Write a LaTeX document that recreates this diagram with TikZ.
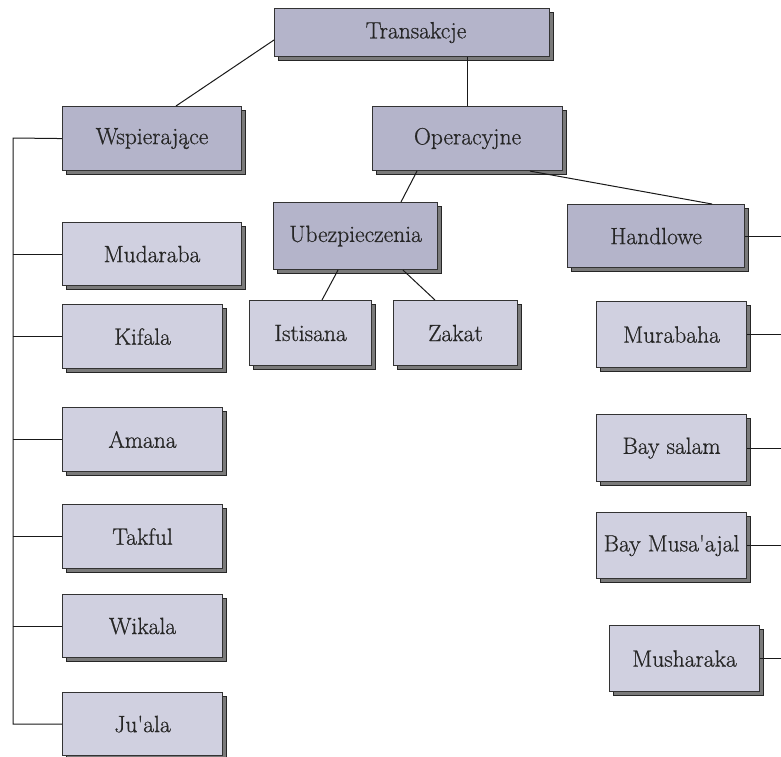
\documentclass[tikz,border=0pt]{standalone}
\usepackage{fontspec}
\setmainfont{Latin Modern Roman}[FakeBold=0.7, Ligatures=TeXOff]
\usetikzlibrary{shadows,calc}
\definecolor{hdrfill}{HTML}{B4B4CA}
\definecolor{leaffill}{HTML}{D0D0E0}
\definecolor{edge}{HTML}{333333}
\definecolor{txt}{HTML}{262626}
\tikzset{
  boxbase/.style={draw=edge, line width=1.1pt, inner sep=0pt, anchor=north west,
    text=txt, font=\fontsize{23.5}{27}\selectfont,
    copy shadow={shadow xshift=4pt, shadow yshift=-4pt, fill=black!52, draw=black!85, line width=1pt}},
  hdr/.style={boxbase, fill=hdrfill},
  leaf/.style={boxbase, fill=leaffill},
  conn/.style={draw=black!90, line width=1pt}
}
\begin{document}
\begin{tikzpicture}[x=1pt,y=-1pt]
\useasboundingbox (0,0) rectangle (781,756);
% headers
\node[hdr, minimum width=275pt, minimum height=48pt] (T) at (274,8) {\hspace{8pt}Transakcje};
\node[hdr, minimum width=179pt, minimum height=64pt] (W) at (62,106) {Wspierające};
\node[hdr, minimum width=190pt, minimum height=64pt] (O) at (372,106) {Operacyjne};
\node[hdr, minimum width=164pt, minimum height=67pt] (U) at (273,202) {Ubezpieczenia};
\node[hdr, minimum width=177pt, minimum height=63pt] (H) at (567,204) {Handlowe};
% leaves under Ubezpieczenia
\node[leaf, minimum width=122pt, minimum height=65pt] (I) at (249,300) {Istisana};
\node[leaf, minimum width=124pt, minimum height=65pt] (Z) at (393,300) {Zakat};
% left column
\node[leaf, minimum width=179pt, minimum height=63pt] (Mud) at (62,222) {Mudaraba};
\node[leaf, minimum width=160pt, minimum height=64pt] (Kif) at (62,304) {Kifala};
\node[leaf, minimum width=160pt, minimum height=64pt] (Ama) at (62,407) {Amana};
\node[leaf, minimum width=160pt, minimum height=64pt] (Tak) at (62,504) {Takful};
\node[leaf, minimum width=160pt, minimum height=63pt] (Wik) at (62,594) {Wikala};
\node[leaf, minimum width=160pt, minimum height=63pt] (Jua) at (62,692) {Ju'ala};
% right column
\node[leaf, minimum width=150pt, minimum height=66pt] (Mur) at (596,301) {Murabaha};
\node[leaf, minimum width=150pt, minimum height=67pt] (Bay) at (596,414) {Bay salam};
\node[leaf, minimum width=150pt, minimum height=66pt] (Mus) at (596,512) {Bay Musa'ajal};
\node[leaf, minimum width=150pt, minimum height=66pt] (Msh) at (609,625) {Musharaka};
% bus coordinates
\coordinate (lbus) at (13,138);
\coordinate (rbus) at (781,0);
% connectors
\draw[conn] ($(T.north west)+(0,32)$) -- ($(W.north west)+(114,0)$);
\draw[conn] (O.north |- T.south) -- (O.north);
\draw[conn] ($(O.south west)+(45,0)$) -- ($(U.north west)+(128,0)$);
\draw[conn] ($(O.south west)+(158,0)$) -- ($(H.north west)+(145,0)$);
\draw[conn] ($(U.south west)+(65,0)$) -- ($(I.north west)+(73,0)$);
\draw[conn] ($(U.south west)+(130,0)$) -- ($(Z.north west)+(42,0)$);
% left bus
\draw[conn] (W.west) -- (lbus) |- (Jua.west);
\foreach \n in {Mud,Kif,Ama,Tak,Wik}{
  \draw[conn] (\n.west) -- (\n.west -| lbus);
}
% right bus
\foreach \n in {H,Mur,Bay,Mus,Msh}{
  \draw[conn] (\n.east) -- (\n.east -| rbus);
}
\end{tikzpicture}
\end{document}
